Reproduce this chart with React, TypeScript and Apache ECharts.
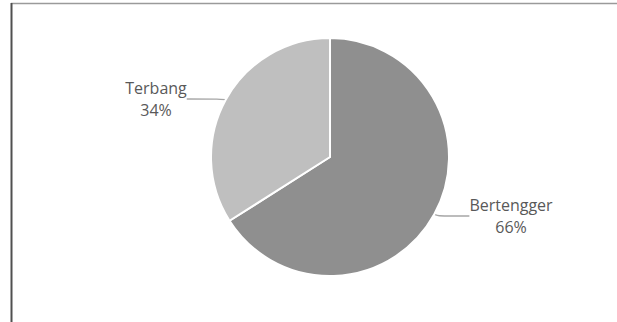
import React, { useEffect, useRef } from "react";
import * as echarts from "echarts";

const categories = ["Bertengger", "Terbang"];
const values = [66, 34];
const colors = ["#8f8f8f", "#bfbfbf"];
const labelPositions = [
  [511, 216],
  [156, 99],
];

export default function App() {
  const ref = useRef<HTMLDivElement>(null);
  useEffect(() => {
    if (!ref.current) return;
    const chart = echarts.init(ref.current, null, { renderer: "svg" });
    chart.setOption({
      animation: false,
      backgroundColor: "#ffffff",
      graphic: [
        {
          type: "line",
          shape: { x1: 11, y1: 3.5, x2: 617, y2: 3.5 },
          style: { stroke: "#9a9a9a", lineWidth: 1.5 },
        },
        {
          type: "line",
          shape: { x1: 11.5, y1: 3, x2: 11.5, y2: 322 },
          style: { stroke: "#505050", lineWidth: 2 },
        },
      ],
      series: [
        {
          type: "pie",
          center: [330, 157],
          radius: [0, 119],
          startAngle: 90,
          clockwise: true,
          data: categories.map((name, i) => ({
            name,
            value: values[i],
            itemStyle: { color: colors[i] },
          })),
          itemStyle: { borderColor: "#ffffff", borderWidth: 2 },
          label: {
            show: true,
            formatter: "{b}\n{d}%",
            fontFamily: "Open Sans",
            fontSize: 16,
            lineHeight: 22,
            color: "#595959",
            align: "center",
          },
          labelLine: {
            show: true,
            smooth: 0.3,
            lineStyle: { color: "#a6a6a6", width: 1.3 },
          },
          labelLayout: (params: any) => {
            const p = labelPositions[params.dataIndex];
            return { x: p[0], y: p[1], align: "center", verticalAlign: "middle" };
          },
        },
      ],
    });
    return () => chart.dispose();
  }, []);
  return (
    <div
      ref={ref}
      style={{ position: "fixed", left: 0, top: 0, width: 617, height: 322 }}
    />
  );
}
